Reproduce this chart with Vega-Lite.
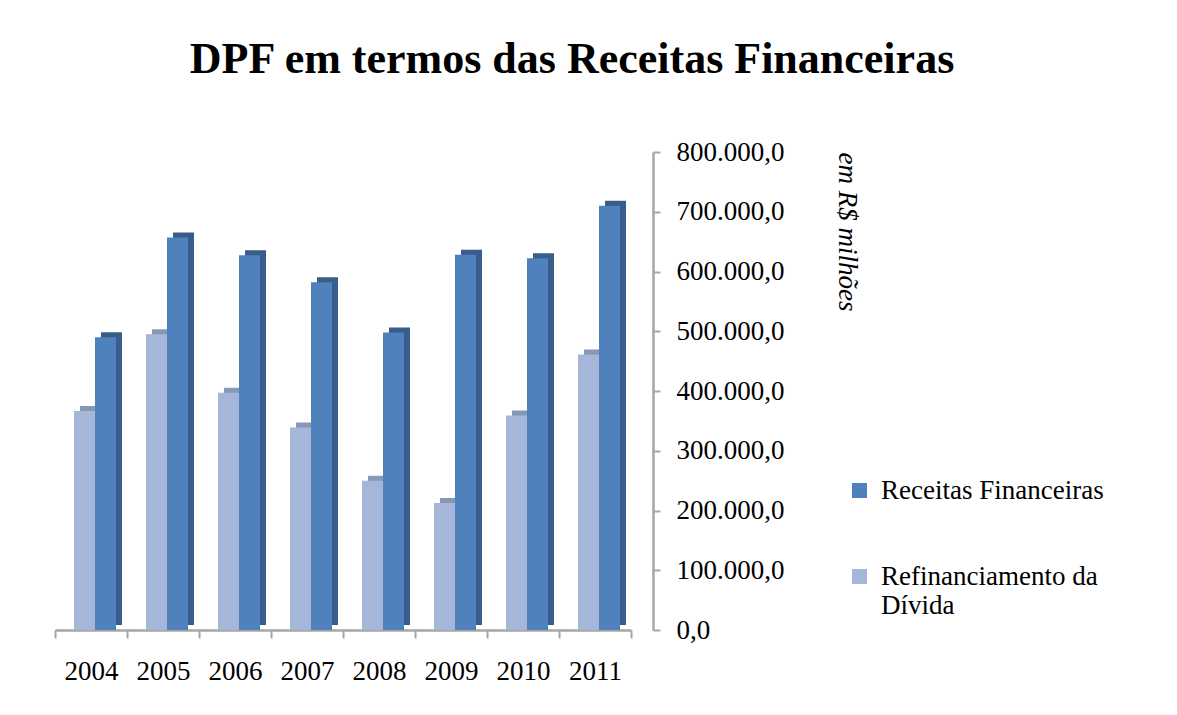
{
  "$schema": "https://vega.github.io/schema/vega-lite/v6.json",
  "width": 576,
  "height": 478,
  "autosize": {"type": "none"},
  "padding": {"left": 55, "top": 152, "right": 546, "bottom": 85},
  "background": "white",
  "config": {
    "font": "Liberation Serif",
    "view": {"stroke": null},
    "locale": {"number": {"decimal": ",", "thousands": ".", "grouping": [3], "currency": ["R$", ""]}},
    "legend": {
      "title": null,
      "orient": "none",
      "legendX": 791,
      "legendY": 325,
      "padding": 0,
      "symbolType": "square",
      "symbolSize": 225,
      "symbolStrokeWidth": 0,
      "labelFont": "Liberation Serif",
      "labelFontSize": 27,
      "labelColor": "black",
      "labelOffset": 8,
      "labelLimit": 400,
      "rowPadding": 58
    }
  },
  "title": {
    "text": "DPF em termos das Receitas Financeiras",
    "font": "Liberation Serif",
    "fontSize": 44,
    "fontWeight": "bold",
    "color": "black",
    "anchor": "middle",
    "frame": "group",
    "dx": 229,
    "baseline": "alphabetic",
    "offset": 21
  },
  "data": {
    "values": [
      {"ano": "2004", "serie": "Refinanciamento da Dívida", "valor": 366500},
      {"ano": "2005", "serie": "Refinanciamento da Dívida", "valor": 495000},
      {"ano": "2006", "serie": "Refinanciamento da Dívida", "valor": 397000},
      {"ano": "2007", "serie": "Refinanciamento da Dívida", "valor": 339000},
      {"ano": "2008", "serie": "Refinanciamento da Dívida", "valor": 250000},
      {"ano": "2009", "serie": "Refinanciamento da Dívida", "valor": 212500},
      {"ano": "2010", "serie": "Refinanciamento da Dívida", "valor": 359000},
      {"ano": "2011", "serie": "Refinanciamento da Dívida", "valor": 461000},
      {"ano": "2004", "serie": "Receitas Financeiras", "valor": 490000},
      {"ano": "2005", "serie": "Receitas Financeiras", "valor": 657000},
      {"ano": "2006", "serie": "Receitas Financeiras", "valor": 627000},
      {"ano": "2007", "serie": "Receitas Financeiras", "valor": 582000},
      {"ano": "2008", "serie": "Receitas Financeiras", "valor": 498000},
      {"ano": "2009", "serie": "Receitas Financeiras", "valor": 628000},
      {"ano": "2010", "serie": "Receitas Financeiras", "valor": 622000},
      {"ano": "2011", "serie": "Receitas Financeiras", "valor": 710000}
    ]
  },
  "encoding": {
    "x": {
      "field": "ano",
      "type": "nominal",
      "scale": {"paddingInner": 0, "paddingOuter": 0},
      "axis": {
        "title": null,
        "labelAngle": 0,
        "labelFont": "Liberation Serif",
        "labelFontSize": 27,
        "labelColor": "black",
        "labelPadding": 20,
        "domainColor": "#A6A6A6",
        "domainWidth": 2.5,
        "tickColor": "#A6A6A6",
        "tickWidth": 2,
        "tickSize": 8,
        "tickBand": "extent"
      }
    },
    "y": {
      "field": "valor",
      "type": "quantitative",
      "scale": {"domain": [0, 800000], "nice": false},
      "axis": {
        "orient": "right",
        "offset": 22,
        "title": "em R$ milhões",
        "titleFont": "Liberation Serif",
        "titleFontSize": 27,
        "titleFontStyle": "italic",
        "titleFontWeight": "normal",
        "titleColor": "black",
        "titleAnchor": "end",
        "titleAlign": "left",
        "titlePadding": 48,
        "values": [0, 100000, 200000, 300000, 400000, 500000, 600000, 700000, 800000],
        "format": ",.1f",
        "grid": false,
        "labelFont": "Liberation Serif",
        "labelFontSize": 27,
        "labelColor": "black",
        "labelPadding": 16,
        "domainColor": "#A6A6A6",
        "domainWidth": 2.5,
        "tickColor": "#A6A6A6",
        "tickWidth": 2,
        "tickSize": 7
      }
    }
  },
  "layer": [
    {
      "transform": [{"filter": "datum.serie == 'Refinanciamento da Dívida'"}],
      "mark": {"type": "bar", "width": 21, "xOffset": -0.5, "yOffset": -5, "color": "#8797B6"}
    },
    {
      "transform": [{"filter": "datum.serie == 'Receitas Financeiras'"}],
      "mark": {"type": "bar", "width": 21, "xOffset": 20.5, "yOffset": -5, "color": "#385D8A"}
    },
    {
      "transform": [{"filter": "datum.serie == 'Refinanciamento da Dívida'"}],
      "mark": {"type": "bar", "width": 21, "xOffset": -6.5},
      "encoding": {
        "color": {
          "field": "serie",
          "type": "nominal",
          "scale": {"domain": ["Receitas Financeiras", "Refinanciamento da Dívida"], "range": ["#4F81BD", "#A5B6D8"]},
          "legend": {"labelExpr": "datum.label == 'Refinanciamento da Dívida' ? ['Refinanciamento da', 'Dívida'] : datum.label"}
        }
      }
    },
    {
      "transform": [{"filter": "datum.serie == 'Receitas Financeiras'"}],
      "mark": {"type": "bar", "width": 21, "xOffset": 14.5},
      "encoding": {
        "color": {
          "field": "serie",
          "type": "nominal",
          "scale": {"domain": ["Receitas Financeiras", "Refinanciamento da Dívida"], "range": ["#4F81BD", "#A5B6D8"]},
          "legend": {"labelExpr": "datum.label == 'Refinanciamento da Dívida' ? ['Refinanciamento da', 'Dívida'] : datum.label"}
        }
      }
    }
  ]
}
